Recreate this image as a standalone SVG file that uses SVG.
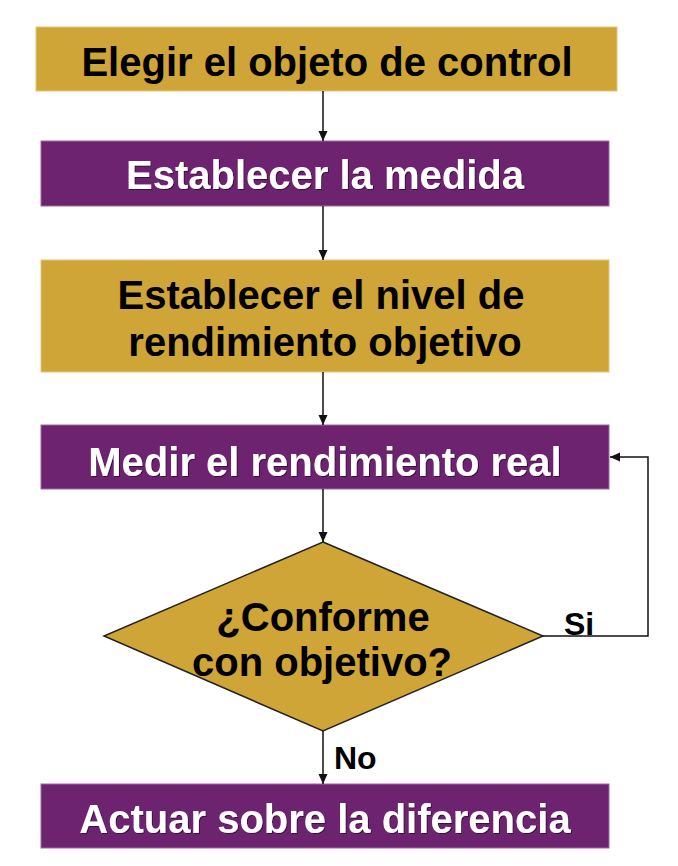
<svg xmlns="http://www.w3.org/2000/svg" width="678" height="866" viewBox="0 0 678 866">
<defs>
<marker id="arr" markerWidth="10" markerHeight="12" refX="10" refY="6" orient="auto" markerUnits="userSpaceOnUse">
<path d="M0,1.5 L10,6 L0,10.5 Z" fill="#111"/>
</marker>
<filter id="sh" x="-5%" y="-20%" width="110%" height="140%">
<feDropShadow dx="1" dy="1" stdDeviation="0.6" flood-color="#000" flood-opacity="0.5"/>
</filter>
</defs>
<style>
.gold{fill:#CFA537;stroke:#E2C57A;stroke-width:1}
.purple{fill:#6E2370;stroke:#9A6A9C;stroke-width:1}
.dia{fill:#CFA537;stroke:#222;stroke-width:1.5}
text{font-family:"Liberation Sans",Arial,sans-serif;font-weight:bold;text-anchor:middle}
.dk{fill:#000;font-size:40px}
.wt{fill:#fff;font-size:40px;filter:url(#sh)}
.lbl{fill:#000;font-size:32px;text-anchor:start}
.conn{fill:none;stroke:#111;stroke-width:1.5}
</style>
<rect width="678" height="866" fill="#fff"/>
<g id="n1">
<rect class="gold" x="36" y="27" width="581" height="64"/>
<text class="dk" x="327" y="76">Elegir el objeto de control</text>
</g>
<g id="n2">
<rect class="purple" x="41" y="141" width="568" height="65"/>
<text class="wt" x="325" y="189">Establecer la medida</text>
</g>
<g id="n3">
<rect class="gold" x="41" y="260" width="568" height="112"/>
<text class="dk" x="321" y="309">Establecer el nivel de</text>
<text class="dk" x="325" y="356">rendimiento objetivo</text>
</g>
<g id="n4">
<rect class="purple" x="41" y="425" width="568" height="64"/>
<text class="wt" x="325" y="476">Medir el rendimiento real</text>
</g>
<g id="n5">
<polygon class="dia" points="323,542 543,636 323,731 104,636"/>
<text class="dk" x="323" y="631">¿Conforme</text>
<text class="dk" x="322" y="676">con objetivo?</text>
</g>
<g id="n6">
<rect class="purple" x="41" y="784" width="568" height="64"/>
<text class="wt" x="325" y="833">Actuar sobre la diferencia</text>
</g>
<g id="connectors">
<line class="conn" x1="323" y1="91" x2="323" y2="141" marker-end="url(#arr)"/>
<line class="conn" x1="323" y1="206" x2="323" y2="260" marker-end="url(#arr)"/>
<line class="conn" x1="323" y1="372" x2="323" y2="425" marker-end="url(#arr)"/>
<line class="conn" x1="323" y1="489" x2="323" y2="542" marker-end="url(#arr)"/>
<line class="conn" x1="323" y1="731" x2="323" y2="784" marker-end="url(#arr)"/>
<polyline class="conn" points="543,636 648,636 648,457 610,457" marker-end="url(#arr)"/>
<text class="lbl" x="564" y="635">Si</text>
<text class="lbl" x="334" y="769">No</text>
</g>
</svg>
